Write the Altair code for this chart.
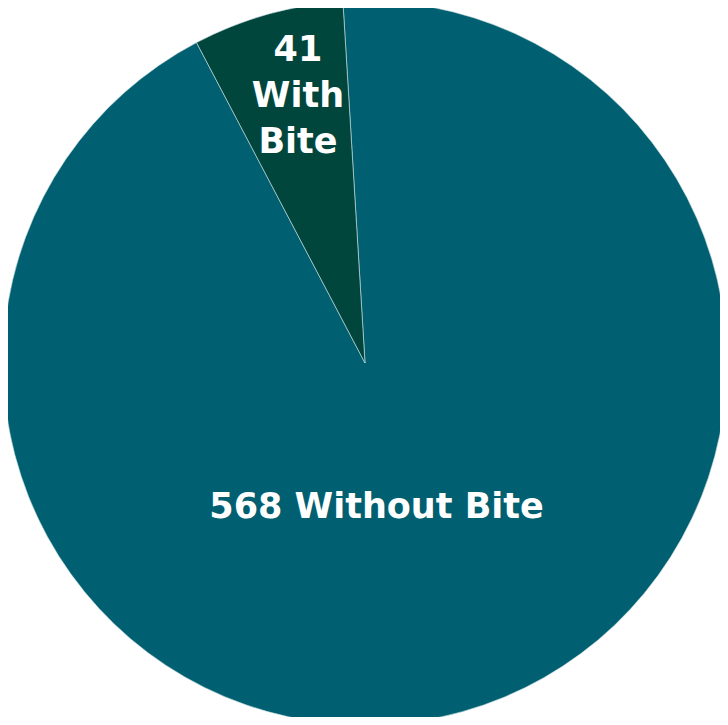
import math
import altair as alt
import pandas as pd

categories = ["Without Bite", "With Bite"]
counts = [568, 41]
labels = ["568 Without Bite", "41\nWith\nBite"]
colors = ["#005F70", "#00463C"]

df = pd.DataFrame({"category": categories, "count": counts, "label": labels, "order": [0, 1]})

start = 2 * math.pi - math.radians(3.5)
rng = [start, start + 2 * math.pi]

pie = alt.Chart(df).mark_arc(stroke="#cfe3e6", strokeWidth=0.6).encode(
    theta=alt.Theta("count:Q", stack=True, scale=alt.Scale(range=rng)),
    order=alt.Order("order:Q"),
    color=alt.Color("category:N", scale=alt.Scale(domain=categories, range=colors), legend=None),
    x=alt.value(357), y=alt.value(355), radius=alt.value(362),
)

text_base = alt.Chart(df).transform_joinaggregate(
    total="sum(count)"
).transform_window(
    cum="sum(count)", sort=[alt.SortField("order")], frame=[None, 0]
).transform_calculate(
    frac="(datum.cum - datum.count / 2) / datum.total"
)

def label_layer(cat, radius, dx, dy, **kw):
    return text_base.transform_filter(alt.datum.category == cat).mark_text(
        radius=radius, dx=dx, dy=dy, fontSize=35, font="DejaVu Sans", fontWeight="bold",
        color="white", align="center", baseline="middle", **kw,
    ).encode(
        theta=alt.Theta("frac:Q", scale=alt.Scale(domain=[0, 1], range=rng)),
        text="label:N", x=alt.value(357), y=alt.value(355),
    )

big_label = label_layer("Without Bite", 147, -28, 2)
small_label = label_layer("With Bite", 275, 7, -48, lineBreak="\n", lineHeight=46)

chart = alt.layer(pie, big_label, small_label).resolve_scale(
    theta="independent"
).properties(
    width=712, height=709, padding=0, autosize=alt.AutoSizeParams(type="none"),
    background="white",
).configure_view(stroke=None)

chart.save("out.html", embed_options={"renderer": "svg", "actions": False})
